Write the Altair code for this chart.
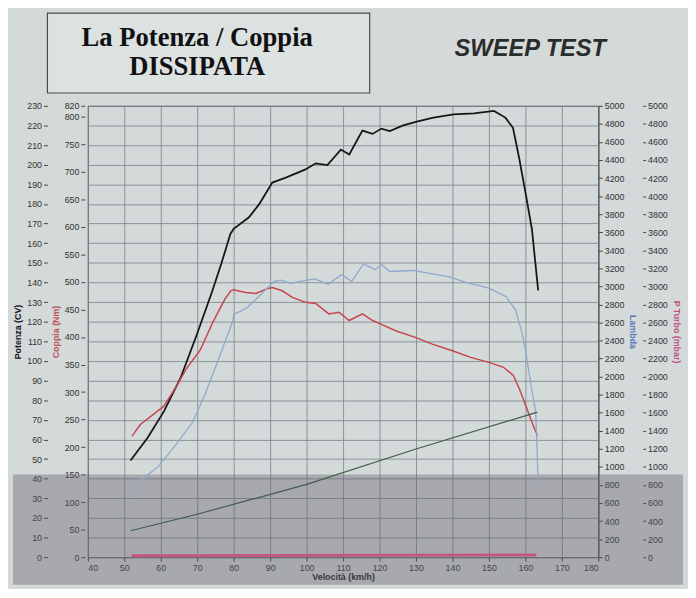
import altair as alt
import pandas as pd

# ---------------- data ----------------
x_ticks = list(range(40, 181, 10))
potenza_ticks = list(range(0, 231, 10))
coppia_ticks = list(range(0, 801, 50)) + [820]
right_ticks = list(range(0, 5001, 200))

# Potenza (CV) - black curve
potenza_speed = [51.7, 56.4, 60.9, 65.4, 69.8, 73.9, 76.6, 79.1, 80.0, 84.2, 87.0, 90.6,
                 94.3, 99.7, 102.5, 105.7, 109.4, 111.7, 115.3, 118.1, 120.5, 122.8,
                 126.5, 130.2, 134.8, 140.3, 145.9, 151.4, 154.5, 156.6, 158.3, 160.0,
                 161.8, 163.5]
potenza_cv = [49.3, 60.9, 74.4, 91.2, 113.0, 134.4, 149.5, 164.7, 167.3, 173.2, 179.9, 190.9,
              193.4, 197.6, 200.7, 199.8, 207.7, 205.2, 217.4, 215.7, 218.4, 217.1,
              220.0, 221.9, 224.0, 225.7, 226.2, 227.4, 224.0, 218.8, 203.3, 186.0,
              167.0, 136.0]

# Coppia (Nm) - red curve
coppia_speed = [52.1, 54.4, 60.8, 64.0, 67.1, 70.8, 74.3, 76.4, 77.6, 79.2, 80.0, 83.3,
                86.1, 88.9, 90.6, 93.3, 96.1, 99.7, 102.5, 106.1, 108.9, 111.7, 115.3,
                118.1, 120.5, 124.6, 130.0, 134.5, 140.0, 145.0, 150.0, 154.0, 156.7,
                158.4, 160.1, 161.8, 163.3]
coppia_nm = [220, 241, 274, 307, 343, 376, 427, 454, 469, 484, 486, 481,
             479, 487, 490, 484, 472, 463, 461, 442, 445, 430, 442,
             430, 423, 411, 399, 387, 375, 363, 354, 345, 330,
             305, 275, 245, 221]

# Lambda - blue curve
lambda_speed = [51.5, 54.7, 59.3, 64.0, 68.7, 72.3, 76.1, 79.8, 80.0, 83.6, 87.4, 91.0,
                92.9, 95.7, 98.5, 102.2, 105.9, 109.6, 112.4, 115.6, 118.8, 120.5, 122.8,
                129.2, 133.7, 139.2, 143.7, 150.0, 154.6, 157.3, 159.1, 160.1, 161.5,
                162.8, 163.1, 163.5]
lambda_vals = [664, 859, 1003, 1238, 1492, 1818, 2221, 2622, 2688, 2761, 2907, 3054,
               3070, 3033, 3059, 3082, 3024, 3130, 3055, 3251, 3185, 3242, 3165,
               3176, 3145, 3104, 3045, 2980, 2888, 2740, 2482, 2280, 1911,
               1617, 1323, 809]

# green straight line (right scale)
green_speed = [51.7, 70.0, 100.0, 130.0, 163.3]
green_vals = [293, 476, 806, 1198, 1607]

# P Turbo (mbar) - pink line at the bottom
turbo_speed = [52.0, 163.0]
turbo_mbar = [15, 25]

# ---------------- chart ----------------
LABEL_FONT = "Liberation Sans"
GRID = "#7f878c"
H = 458


def df(xs, ys):
    return pd.DataFrame({"v": xs, "y": ys})


x_enc = alt.X(
    "v:Q",
    scale=alt.Scale(domain=[40, 180], nice=False, zero=False),
    axis=alt.Axis(values=x_ticks, title="Velocità (km/h)", grid=True,
                  gridColor=GRID, gridOpacity=0.85, tickSize=4,
                  labelFontSize=9, titleFontSize=9, titleFontWeight="bold",
                  labelColor="#333", titleColor="#222", titlePadding=1,
                  domain=False, tickColor="#444"),
)

pot = alt.Chart(df(potenza_speed, potenza_cv)).mark_line(
    color="#161616", strokeWidth=1.8).encode(
    x=x_enc,
    y=alt.Y("y:Q", scale=alt.Scale(domain=[0, 230], nice=False),
            axis=alt.Axis(orient="left", offset=41, values=potenza_ticks,
                          title="Potenza (CV)", grid=True, gridColor=GRID,
                          gridOpacity=0.85, domain=False, tickSize=4,
                          tickColor="#444", labelFontSize=9, labelColor="#333",
                          titleFontSize=9, titleFontWeight="bold",
                          titleColor="#111", titlePadding=4)),
)

cop = alt.Chart(df(coppia_speed, coppia_nm)).mark_line(
    color="#c5464f", strokeWidth=1.5).encode(
    x=x_enc,
    y=alt.Y("y:Q", scale=alt.Scale(domain=[0, 820], nice=False),
            axis=alt.Axis(orient="left", offset=3, values=coppia_ticks,
                          title="Coppia (Nm)", grid=False, domain=False,
                          tickSize=4, tickColor="#444", labelFontSize=9,
                          labelColor="#333", titleFontSize=9,
                          titleFontWeight="bold", titleColor="#c0505a",
                          titlePadding=4)),
)

lam = alt.Chart(df(lambda_speed, lambda_vals)).mark_line(
    color="#8ea9cc", strokeWidth=1.3).encode(
    x=x_enc,
    y=alt.Y("y:Q", scale=alt.Scale(domain=[0, 5000], nice=False),
            axis=alt.Axis(orient="right", offset=0, values=right_ticks,
                          format="d", title="Lambda", grid=False, domain=True,
                          domainColor="#555", tickSize=4, tickColor="#444",
                          labelFontSize=9, labelColor="#333", titleFontSize=9,
                          titleColor="#5a78b8", titlePadding=4)),
)

grn = alt.Chart(df(green_speed, green_vals)).mark_line(
    color="#3f5e48", strokeWidth=1.2).encode(
    x=x_enc,
    y=alt.Y("y:Q", scale=alt.Scale(domain=[0, 5000], nice=False), axis=None),
)

tur = alt.Chart(df(turbo_speed, turbo_mbar)).mark_line(
    color="#c4587c", strokeWidth=3).encode(
    x=x_enc,
    y=alt.Y("y:Q", scale=alt.Scale(domain=[0, 5000], nice=False),
            axis=alt.Axis(orient="right", offset=45, values=right_ticks,
                          format="d", title="P Turbo (mbar)", grid=False,
                          domain=False, tickSize=3, tickColor="#444",
                          labelFontSize=9, labelColor="#333", titleFontSize=9,
                          titleColor="#c0507a", titlePadding=4)),
)

one = pd.DataFrame({"k": [0]})
# darker lower band of the sheet (shadow of the photographed print)
shade = alt.Chart(one).mark_rect(fill="#5f5b66", opacity=0.38).encode(
    x=alt.value(-76), x2=alt.value(604), y=alt.value(374), y2=alt.value(H + 28))
box = alt.Chart(one).mark_rect(fill="#dce1e2", stroke="#4a4a4a", strokeWidth=1.2).encode(
    x=alt.value(-41), x2=alt.value(286), y=alt.value(-94), y2=alt.value(-13))
t1 = alt.Chart(one).mark_text(text="La Potenza / Coppia", font="Liberation Serif",
                              fontSize=27, fontWeight="bold", color="#111",
                              align="center", baseline="alphabetic").encode(
    x=alt.value(111), y=alt.value(-61))
t2 = alt.Chart(one).mark_text(text="DISSIPATA", font="Liberation Serif",
                              fontSize=27, fontWeight="bold", color="#111",
                              align="center", baseline="alphabetic").encode(
    x=alt.value(111), y=alt.value(-31))
t3 = alt.Chart(one).mark_text(text="SWEEP TEST", font=LABEL_FONT, fontSize=24,
                              fontWeight="bold", fontStyle="italic", color="#2b2b2b",
                              align="center", baseline="alphabetic").encode(
    x=alt.value(449), y=alt.value(-51))

chart = alt.layer(shade, pot, cop, lam, grn, tur, box, t1, t2, t3).resolve_scale(
    y="independent"
).properties(
    width=518, height=H, background="#d4d9da",
    padding={"left": 5, "top": 0, "right": 5, "bottom": 0},
).configure(font=LABEL_FONT).configure_view(
    stroke="#444", strokeWidth=1, fill="#d4d9da"
)

chart.save("out.html", embed_options={"renderer": "svg", "actions": False})
